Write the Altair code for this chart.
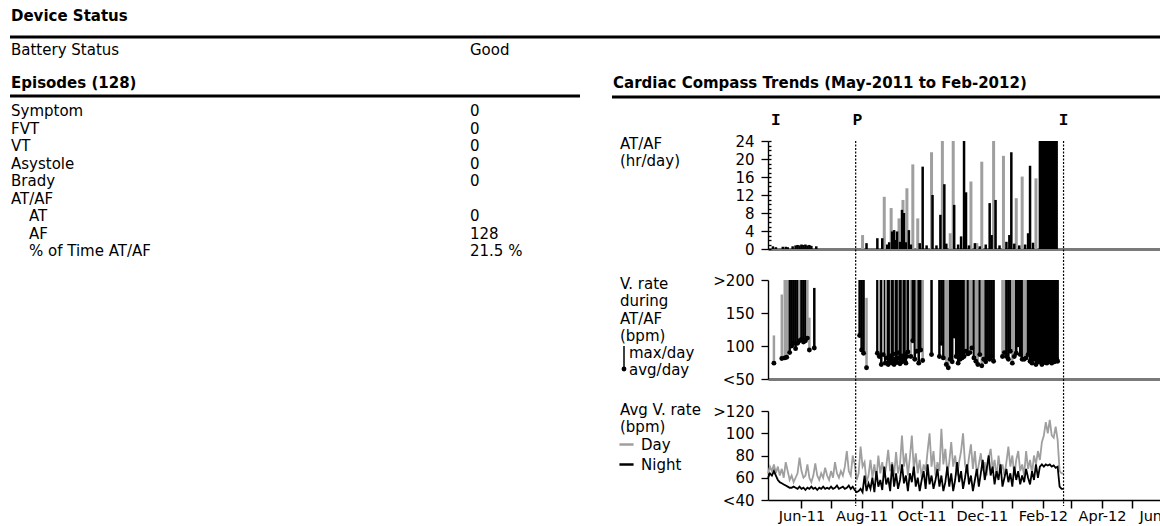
import altair as alt
import pandas as pd

FONT = "DejaVu Sans"
MONO = "Liberation Mono"

# ---------------- header / table text ----------------
device_title = "Device Status"
battery_label = "Battery Status"
battery_value = "Good"
episodes_title = "Episodes (128)"
trends_title = "Cardiac Compass Trends (May-2011 to Feb-2012)"

table_labels = ["Symptom", "FVT", "VT", "Asystole", "Brady", "AT/AF", "AT", "AF", "% of Time AT/AF"]
table_values = ["0", "0", "0", "0", "0", "", "0", "128", "21.5 %"]
table_indent = [0, 0, 0, 0, 0, 0, 1, 1, 1]

# ---------------- time reference (day offsets counted from this date) ----------------
origin = "2011-05-01"
marker_text = ["I", "P", "I"]
marker_day = [5, 88, 297]
dashed_day = [86, 297]

# ---------------- AT/AF hours per day ----------------
atf_gray_day = [93, 115, 122, 130, 134, 138, 144, 149, 163, 174, 182, 185, 203, 209, 214, 226, 236, 249, 255, 269]
atf_gray_hr = [3.1, 11.6, 9.1, 6.8, 10.9, 13.5, 18.8, 6.8, 21.5, 24, 3.5, 24, 15, 1.3, 19.4, 24, 20.7, 11.3, 16.1, 15.7]

atf_black_day = [2, 5, 12, 15, 17, 22, 25, 27, 29, 31, 33, 35, 37, 39, 41, 46,
                 97, 108, 113, 118, 120, 123, 125, 126, 128, 131, 133, 135, 137, 140, 142, 151, 154, 158,
                 164, 168, 172, 176, 178, 186, 190, 193, 196, 198, 201, 207, 212, 218, 222, 224, 228,
                 232, 239, 242, 244, 247, 252, 258, 261, 263, 266,
                 273, 274, 275, 276, 277, 278, 279, 280, 281, 282, 283, 284, 285, 286, 287, 288, 289, 290]
atf_black_hr = [0.6, 0.4, 0.5, 0.5, 0.4, 0.6, 0.8, 0.9, 0.8, 1.0, 0.9, 1.0, 0.8, 0.9, 0.7, 0.6,
                1.3, 2.4, 2.4, 1.0, 1.5, 3.9, 4.2, 2.0, 3.9, 1.6, 8.7, 8.0, 1.5, 4.2, 1.0, 1.3, 18.3, 0.8,
                12.0, 0.8, 7.6, 14.4, 1.2, 9.8, 1.0, 2.8, 24, 12.6, 0.8, 1.3, 0.6, 1.0, 10.2, 3.1, 10.9,
                0.8, 1.6, 3.1, 21.5, 1.2, 0.8, 1.0, 3.5, 18.5, 1.4,
                24, 24, 24, 24, 24, 24, 24, 24, 24, 24, 24, 24, 24, 24, 24, 24, 24, 24]

# ---------------- V. rate during AT/AF (max/day, avg/day) ----------------
vr_day = [3, 11, 14, 16, 19, 21, 23, 25, 27, 29, 31, 33, 35, 37, 39, 44,
          90, 92, 94, 97,
          108, 110, 112, 114, 116, 117, 119, 120, 121, 122, 123, 124, 125, 126, 127, 128, 129, 130,
          131, 132, 133, 134, 135, 136, 137, 138, 139,
          142, 144, 146, 148, 150, 152, 154, 163,
          171, 173, 175, 178, 180, 182, 184, 186, 188, 190, 192, 194, 196, 198, 200, 202, 204, 206,
          208, 210, 212, 214, 216, 218, 220, 222, 224, 226,
          235, 237, 239, 241, 243, 245, 247, 249, 251, 253, 255, 257, 259, 261, 263, 265, 267, 269,
          271, 272, 273, 274, 275, 276, 277, 278, 279, 280, 281, 282, 283, 284, 285, 286, 287, 288,
          289, 290, 291]
vr_max = [116, 178, 200, 200, 200, 200, 200, 200, 200, 200, 200, 200, 200, 200, 143, 188,
          200, 200, 200, 173,
          200, 200, 200, 200, 200, 200, 200, 200, 200, 200, 200, 200, 200, 200, 200, 200, 200, 200,
          200, 200, 200, 200, 200, 200, 200, 200, 200,
          200, 200, 200, 200, 200, 200, 200, 200,
          200, 200, 200, 200, 200, 200, 200, 200, 200, 200, 200, 200, 200, 200, 200, 200, 200, 200,
          200, 200, 200, 200, 200, 200, 200, 200, 200, 200,
          200, 200, 200, 200, 200, 200, 200, 200, 200, 200, 200, 200, 200, 200, 200, 200, 200, 200,
          200, 200, 200, 200, 200, 200, 200, 200, 200, 200, 200, 200, 200, 200, 200, 200, 200, 200,
          200, 200, 200]
vr_avg = [74, 81, 82, 83, 90, 100, 104, 96, 104, 108, 110, 106, 108, 112, 94, 97,
          116, 94, 89, 67,
          89, 84, 72, 87, 74, 82, 72, 80, 85, 76, 74, 88, 72, 80, 78, 75, 90, 82,
          73, 85, 76, 79, 82, 88, 74, 84, 91,
          84, 108, 80, 92, 74, 94, 78, 87,
          84, 104, 82, 72, 67, 80, 76, 115, 84, 74, 80, 82, 84, 92, 88, 90, 97, 82,
          77, 72, 87, 70, 80, 76, 82, 80, 84, 77,
          84, 90, 84, 80, 92, 74, 84, 89, 102, 87, 80, 80, 82, 87, 77, 74, 80, 72,
          80, 76, 84, 78, 72, 80, 75, 82, 77, 74, 80, 76, 83, 78, 74, 79, 81, 76,
          78, 80, 77]
vr_shade = ["gray", "gray", "gray", "gray", "black", "black", "black", "black", "black", "gray", "black", "black", "black", "gray", "gray", "black",
            "black", "black", "black", "gray",
            "black", "gray", "black", "gray", "black", "gray", "black", "black", "black", "gray", "black", "black", "black", "gray", "black", "black", "black", "gray",
            "black", "black", "black", "gray", "black", "black", "black", "gray", "black",
            "gray", "black", "black", "gray", "black", "black", "gray", "black",
            "black", "black", "black", "gray", "gray", "black", "black", "black", "black", "black", "black", "black", "black", "gray", "black", "gray", "gray", "black",
            "gray", "gray", "black", "gray", "gray", "black", "black", "black", "black", "black",
            "gray", "gray", "black", "black", "black", "gray", "gray", "black", "black", "black", "black", "gray", "gray", "black", "black", "black", "black", "black",
            "black", "black", "black", "black", "black", "black", "black", "black", "black", "black", "black", "black", "black", "black", "black", "black", "black", "black",
            "black", "black", "black"]

# ---------------- Avg V. rate, every second day from 2011-04-28 ----------------
rate_start = "2011-04-28"
rate_day_bpm = [64, 70, 66, 72, 64, 70, 62, 68, 60, 74,
                66, 58, 62, 56, 60, 64, 78, 66, 60, 62,
                72, 60, 56, 62, 73, 62, 58, 64, 60, 69,
                62, 58, 66, 60, 74, 64, 60, 66, 62, 70,
                84, 66, 62, 80, 72, 58, 64, 88, 70, 74,
                56, 62, 76, 60, 72, 58, 80, 64, 74, 60,
                70, 85, 66, 74, 62, 83, 64, 72, 98, 70,
                82, 62, 78, 98, 68, 82, 64, 76, 60, 72,
                66, 84, 100, 70, 84, 62, 74, 66, 104, 72,
                86, 64, 74, 92, 70, 80, 62, 74, 84, 100,
                72, 64, 78, 90, 68, 84, 62, 72, 82, 66,
                74, 62, 78, 86, 68, 76, 60, 80, 66, 72,
                62, 74, 88, 70, 80, 62, 76, 84, 66, 72,
                62, 84, 68, 76, 64, 80, 72, 84, 76, 92,
                98, 110, 100, 112, 98, 96, 106, 94, 66, 64,
                64]
rate_night_bpm = [60, 64, 62, 66, 62, 58, 56, 55, 54, 53,
                  52, 51, 51, 52, 51, 50, 52, 50, 51, 49,
                  51, 50, 52, 50, 51, 49, 51, 50, 52, 50,
                  51, 50, 52, 50, 51, 53, 50, 51, 52, 50,
                  51, 53, 50, 52, 49, 47, 48, 50, 47, 62,
                  48, 55, 50, 60, 47, 66, 52, 58, 49, 70,
                  54, 60, 48, 72, 52, 64, 50, 58, 72, 55,
                  62, 48, 64, 56, 70, 52, 60, 48, 58, 66,
                  50, 72, 54, 62, 50, 58, 68, 52, 62, 48,
                  56, 70, 52, 64, 48, 58, 74, 56, 66, 50,
                  60, 72, 54, 62, 48, 58, 68, 52, 64, 76,
                  58, 68, 80, 62, 70, 54, 66, 58, 72, 52,
                  60, 68, 56, 64, 52, 70, 58, 66, 54, 62,
                  56, 68, 60, 54, 66, 58, 72, 60, 70, 72,
                  70, 72, 71, 72, 70, 71, 69, 70, 52, 50,
                  50]

# ---------------- build tables ----------------
t0 = pd.Timestamp(origin)


def to_dates(days):
    return [t0 + pd.Timedelta(days=int(d)) for d in days]


df_gray = pd.DataFrame({"date": to_dates(atf_gray_day), "hours": atf_gray_hr})
df_black = pd.DataFrame({"date": to_dates(atf_black_day), "hours": atf_black_hr})
df_vr = pd.DataFrame({"date": to_dates(vr_day), "max": vr_max, "avg": vr_avg, "shade": vr_shade})
rate_dates = pd.date_range(rate_start, periods=len(rate_day_bpm), freq="2D")
df_rate = pd.concat([
    pd.DataFrame({"date": rate_dates, "bpm": rate_day_bpm, "series": "Day"}),
    pd.DataFrame({"date": rate_dates, "bpm": rate_night_bpm, "series": "Night"}),
])
df_mark = pd.DataFrame({"date": to_dates(marker_day), "label": marker_text})
df_dash = pd.DataFrame({"date": to_dates(dashed_day)})
df_tbl = pd.DataFrame({"label": table_labels, "value": table_values,
                       "indent": table_indent, "row": list(range(len(table_labels)))})

# ---------------- scales ----------------
X_DOMAIN = [alt.DateTime(year=2011, month=4, date=28), alt.DateTime(year=2012, month=6, date=5)]
X_RANGE = [768, 1166]


def xenc(axis=None):
    return alt.X("date:T", scale=alt.Scale(domain=X_DOMAIN, range=X_RANGE), axis=axis)


def base_axis(offset, color, width):
    return alt.Axis(orient="bottom", offset=offset, labels=False, ticks=False, domainColor=color,
                    domainWidth=width, title=None, grid=False)


Y1 = alt.Scale(domain=[0, 24], range=[249, 141], nice=False, zero=False)
Y2 = alt.Scale(domain=[50, 200], range=[379, 280], nice=False, zero=False, clamp=True)
Y3 = alt.Scale(domain=[40, 120], range=[500, 411], nice=False, zero=False, clamp=True)

GRAY = "#9f9f9f"
FS = 15
YPAD = 7

one = alt.Data(values=[{"k": 0}])


def txt(s, x, y, size=FS, bold=False, align="left", font=FONT):
    return alt.Chart(one).mark_text(text=s, align=align, baseline="middle", font=font, fontSize=size,
                                    fontWeight="bold" if bold else "normal", color="black").encode(
        x=alt.value(x), y=alt.value(y))


def hrule(x1, x2, y, w):
    return alt.Chart(one).mark_rule(color="black", strokeWidth=w).encode(
        x=alt.value(x1), x2=alt.value(x2), y=alt.value(y))


layers = []

# header
layers += [
    txt(device_title, 11, 16, bold=True),
    hrule(10, 1160, 37, 3),
    txt(battery_label, 11, 50),
    txt(battery_value, 470, 50),
    txt(episodes_title, 11, 83, bold=True),
    hrule(10, 580, 96, 3),
    txt(trends_title, 613, 83, bold=True),
    hrule(612, 1160, 97, 3),
]

# episodes table
ty = alt.Y("row:O", scale=alt.Scale(type="point", domain=list(range(len(table_labels))), range=[111, 251], padding=0), axis=None)
tmark = dict(align="left", baseline="middle", font=FONT, fontSize=FS, color="black")
layers += [
    alt.Chart(df_tbl).transform_filter("datum.indent == 0").mark_text(**tmark).encode(
        x=alt.value(11), y=ty, text="label:N"),
    alt.Chart(df_tbl).transform_filter("datum.indent == 1").mark_text(**tmark).encode(
        x=alt.value(29), y=ty, text="label:N"),
    alt.Chart(df_tbl).mark_text(**tmark).encode(x=alt.value(470), y=ty, text="value:N"),
]

# panel labels
layers += [
    txt("AT/AF", 620, 144), txt("(hr/day)", 620, 161),
    txt("V. rate", 620, 284), txt("during", 620, 301), txt("AT/AF", 620, 319), txt("(bpm)", 620, 336),
    txt("max/day", 629, 353), txt("avg/day", 629, 370),
    txt("Avg V. rate", 620, 410), txt("(bpm)", 620, 427),
    alt.Chart(one).mark_rule(color="black", strokeWidth=1.5).encode(
        x=alt.value(624), y=alt.value(346), y2=alt.value(369)),
    alt.Chart(one).mark_circle(color="black", size=24, opacity=1).encode(
        x=alt.value(624), y=alt.value(369)),
]

# top panel: AT/AF hr/day
layers += [
    alt.Chart(df_gray).mark_rule(color=GRAY, strokeWidth=3).encode(
        x=xenc(base_axis(-277, "#7a7a7a", 3)),
        y=alt.Y("hours:Q", scale=Y1, axis=alt.Axis(orient="left", offset=-768, values=[0, 4, 8, 12, 16, 20, 24],
                                                   tickSize=7, labelPadding=YPAD, title=None, grid=False)),
        y2=alt.datum(0),
    ),
    alt.Chart(df_black).mark_rule(color="black", strokeWidth=2.5).encode(
        x=xenc(),
        y=alt.Y("hours:Q", scale=Y1, axis=alt.Axis(orient="right", offset=-392, values=list(range(25)),
                                                   labels=False, domain=False, tickSize=3, title=None,
                                                   grid=False)),
        y2=alt.datum(0),
    ),
]

# middle panel: V. rate during AT/AF
layers += [
    alt.Chart(df_vr).mark_rule(strokeWidth=2.5).encode(
        x=xenc(base_axis(-147, "#7a7a7a", 3)),
        y=alt.Y("avg:Q", scale=Y2, axis=alt.Axis(
            orient="left", offset=-768, values=[50, 100, 150, 200], tickSize=7, labelPadding=YPAD, title=None,
            grid=False,
            labelExpr="datum.value == 200 ? '>200' : (datum.value == 50 ? '<50' : datum.label)")),
        y2="max:Q",
        color=alt.Color("shade:N", scale=alt.Scale(domain=["gray", "black"], range=[GRAY, "#000000"]), legend=None),
    ),
    alt.Chart(df_vr).mark_circle(color="black", size=24, opacity=1).encode(
        x=xenc(), y=alt.Y("avg:Q", scale=Y2, axis=None)),
]

# bottom panel: Avg V. rate
month_ticks = [alt.DateTime(year=2011, month=m, date=1) for m in range(6, 13)] + \
              [alt.DateTime(year=2012, month=m, date=1) for m in range(1, 7)]
layers += [
    alt.Chart(df_rate).mark_line(strokeWidth=1.8).encode(
        x=xenc(alt.Axis(orient="bottom", offset=-26, values=month_ticks, format="%b-%y",
                        labelExpr="month(datum.value) % 2 == 1 ? datum.label : ''",
                        tickSize=8, labelPadding=1, labelFontSize=14.5, title=None, grid=False,
                        labelOverlap=False, labelFlush=False, domainWidth=1.5, tickWidth=1.5)),
        y=alt.Y("bpm:Q", scale=Y3, axis=alt.Axis(
            orient="left", offset=-768, values=[40, 60, 80, 100, 120], tickSize=7, labelPadding=YPAD, title=None,
            grid=False,
            labelExpr="datum.value == 120 ? '>120' : (datum.value == 40 ? '<40' : datum.label)")),
        color=alt.Color("series:N", scale=alt.Scale(domain=["Day", "Night"], range=[GRAY, "#000000"]),
                        legend=alt.Legend(orient="none", legendX=618, legendY=436, title=None,
                                          symbolType="stroke", symbolStrokeWidth=2.5, symbolSize=200,
                                          labelFont=FONT, labelFontSize=FS, labelColor="black",
                                          labelOffset=6, rowPadding=3)),
        detail="series:N",
    ),
]

# event markers and dashed lines
layers += [
    alt.Chart(df_dash).mark_rule(color="black", strokeWidth=1.2, strokeDash=[2, 1.5]).encode(
        x=xenc(), y=alt.value(141), y2=alt.value(506)),
    alt.Chart(df_mark).mark_text(font=MONO, fontWeight="bold", fontSize=16, baseline="middle",
                                 color="black").encode(
        x=xenc(), y=alt.value(120), text="label:N"),
]

chart = alt.layer(*layers).resolve_scale(
    x="independent", y="independent", color="independent"
).properties(
    width=1160, height=526, autosize=alt.AutoSizeParams(type="none"), padding=0, background="white"
).configure_view(stroke=None).configure_axis(
    labelFont=FONT, labelFontSize=FS, labelColor="black", tickColor="black", domainColor="black",
    tickWidth=1.3, domainWidth=1.4
)

chart.save("out.html", embed_options={"renderer": "svg", "actions": False})
